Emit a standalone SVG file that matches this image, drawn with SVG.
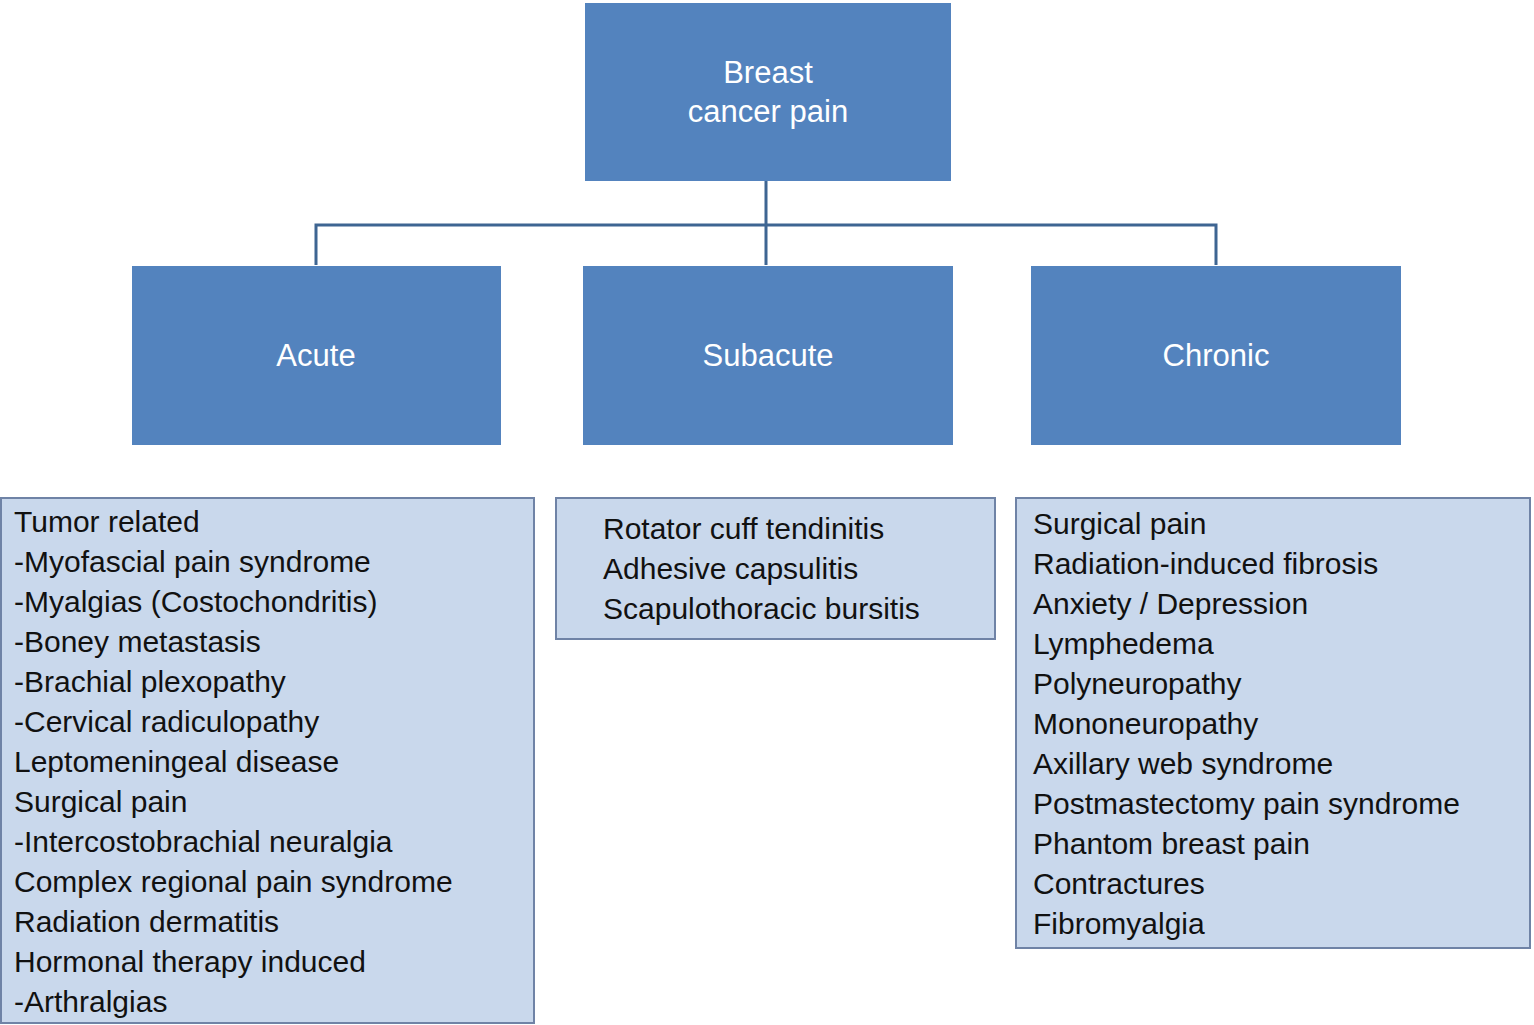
<svg xmlns="http://www.w3.org/2000/svg" width="1534" height="1025" viewBox="0 0 1534 1025">
<style>
.dk{fill:#5383BE}
.lt{fill:#C9D8EC;stroke:#6F83A6;stroke-width:2}
.wt{font-family:"Liberation Sans",Arial,sans-serif;font-size:31px;fill:#fff;text-anchor:middle}
.bt{font-family:"Liberation Sans",Arial,sans-serif;font-size:30px;fill:#111}
.cn{fill:none;stroke:#3E6592;stroke-width:3}
</style>
<rect width="1534" height="1025" fill="#fff"/>
<g id="connectors">
<path class="cn" d="M766 181V225M316 265V225H1216V265M766 225V265"/>
</g>
<g id="root"><rect class="dk" x="585" y="3" width="366" height="178"/>
<text class="wt" x="768" y="83">Breast</text><text class="wt" x="768" y="122">cancer pain</text></g>
<g id="acute"><rect class="dk" x="132" y="266" width="369" height="179"/><text class="wt" x="316" y="366">Acute</text></g>
<g id="subacute"><rect class="dk" x="583" y="266" width="370" height="179"/><text class="wt" x="768" y="366">Subacute</text></g>
<g id="chronic"><rect class="dk" x="1031" y="266" width="370" height="179"/><text class="wt" x="1216" y="366">Chronic</text></g>
<g id="acute-list"><rect class="lt" x="1" y="498" width="533" height="525"/>
<text class="bt" x="14"><tspan x="14" y="532">Tumor related</tspan><tspan x="14" y="572">-Myofascial pain syndrome</tspan><tspan x="14" y="612">-Myalgias (Costochondritis)</tspan><tspan x="14" y="652">-Boney metastasis</tspan><tspan x="14" y="692">-Brachial plexopathy</tspan><tspan x="14" y="732">-Cervical radiculopathy</tspan><tspan x="14" y="772">Leptomeningeal disease</tspan><tspan x="14" y="812">Surgical pain</tspan><tspan x="14" y="852">-Intercostobrachial neuralgia</tspan><tspan x="14" y="892">Complex regional pain syndrome</tspan><tspan x="14" y="932">Radiation dermatitis</tspan><tspan x="14" y="972">Hormonal therapy induced</tspan><tspan x="14" y="1012">-Arthralgias</tspan></text></g>
<g id="subacute-list"><rect class="lt" x="556" y="498" width="439" height="141"/>
<text class="bt"><tspan x="603" y="539">Rotator cuff tendinitis</tspan><tspan x="603" y="579">Adhesive capsulitis</tspan><tspan x="603" y="619">Scapulothoracic bursitis</tspan></text></g>
<g id="chronic-list"><rect class="lt" x="1016" y="498" width="514" height="450"/>
<text class="bt"><tspan x="1033" y="534">Surgical pain</tspan><tspan x="1033" y="574">Radiation-induced fibrosis</tspan><tspan x="1033" y="614">Anxiety / Depression</tspan><tspan x="1033" y="654">Lymphedema</tspan><tspan x="1033" y="694">Polyneuropathy</tspan><tspan x="1033" y="734">Mononeuropathy</tspan><tspan x="1033" y="774">Axillary web syndrome</tspan><tspan x="1033" y="814">Postmastectomy pain syndrome</tspan><tspan x="1033" y="854">Phantom breast pain</tspan><tspan x="1033" y="894">Contractures</tspan><tspan x="1033" y="934">Fibromyalgia</tspan></text></g>
</svg>
